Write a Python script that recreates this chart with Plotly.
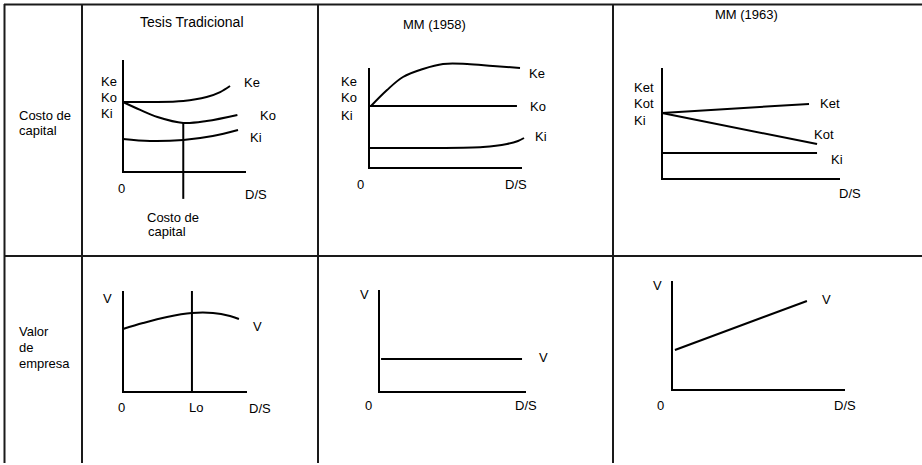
import plotly.graph_objects as go

W, H = 922, 465

# --- datos (unidades de cada panel: D/S de 0 a 10, costo/valor de 0 a 10) ---
# Tesis Tradicional - costo de capital
tt_x_ke = [0, 2.2, 4.9, 6.8, 7.9, 8.7]
tt_ke = [6.25, 6.25, 6.34, 6.7, 7.14, 7.68]
tt_x_ko = [0, 1.4, 2.8, 4.9, 6.8, 9.3]
tt_ko = [6.25, 5.54, 4.91, 4.38, 4.55, 5.09]
tt_x_ki = [0, 2.2, 4.9, 7.3, 9.35]
tt_ki = [2.95, 2.77, 2.86, 3.21, 3.75]
tt_opt_x = [4.9, 4.9]
tt_opt_y = [4.38, -2.4]

# MM (1958) - costo de capital
mm58_x_ke = [0.13, 1.18, 2.22, 3.53, 4.84, 6.41, 8.1, 9.87]
mm58_ke = [6.2, 7.8, 9.1, 9.9, 10.4, 10.4, 10.2, 10.0]
mm58_x_ko = [0, 9.67]
mm58_ko = [6.2, 6.2]
mm58_x_ki = [0, 4.18, 7.45, 9.02, 9.74, 10.13]
mm58_ki = [2.0, 2.0, 2.1, 2.4, 2.7, 3.0]

# MM (1963) - costo de capital
mm63_x_ket = [0, 8.26]
mm63_ket = [5.95, 6.76]
mm63_x_kot = [0, 8.71]
mm63_kot = [5.95, 3.15]
mm63_x_ki = [0, 8.71]
mm63_ki = [2.34, 2.34]

# Valor de empresa
tt_x_v = [0, 1.61, 3.55, 5.56, 7.26, 8.63, 9.35]
tt_v = [6.24, 6.83, 7.43, 7.82, 7.82, 7.52, 7.23]
tt_lo_x = [5.56, 5.56]
tt_lo_y = [0, 10]
mm58_x_v = [0.14, 9.73]
mm58_v = [3.24, 3.24]
mm63_x_v = [0.17, 7.8]
mm63_v = [3.67, 8.17]

axis_x = [0, 0, 10]
axis_y = [10, 0, 0]

# cajas de ejes en pixeles (x0, x1, ytop, ybot) y celdas (x0, x1, ytop, ybot)
panels = [
    ((123, 246, 60, 172), (84, 317, 6, 255)),
    ((369, 522, 68, 168), (320, 612, 6, 255)),
    ((662, 840, 68, 179), (615, 921, 6, 255)),
    ((123, 247, 291, 392), (84, 317, 257, 462)),
    ((379, 526, 290, 392), (320, 612, 257, 462)),
    ((672, 845, 281, 390), (615, 921, 257, 462)),
]

fig = go.Figure()
layout = {}
for i, (box, cell) in enumerate(panels):
    n = "" if i == 0 else str(i + 1)
    x0, x1, yt, yb = box
    cx0, cx1, cyt, cyb = cell
    layout["xaxis" + n] = dict(
        domain=[cx0 / W, cx1 / W],
        range=[(cx0 - x0) / (x1 - x0) * 10, (cx1 - x0) / (x1 - x0) * 10],
        visible=False, anchor="y" + n, fixedrange=True)
    layout["yaxis" + n] = dict(
        domain=[1 - cyb / H, 1 - cyt / H],
        range=[(yb - cyb) / (yb - yt) * 10, (yb - cyt) / (yb - yt) * 10],
        visible=False, anchor="x" + n, fixedrange=True)


def line(x, y, k, spline=False):
    n = "" if k == 1 else str(k)
    fig.add_trace(go.Scatter(
        x=x, y=y, mode="lines", xaxis="x" + n, yaxis="y" + n,
        line=dict(color="black", width=2,
                  shape="spline" if spline else "linear"),
        hoverinfo="skip", showlegend=False))


for k in range(1, 7):
    line(axis_x, axis_y, k)

line(tt_x_ke, tt_ke, 1, True)
line(tt_x_ko, tt_ko, 1, True)
line(tt_x_ki, tt_ki, 1, True)
line(tt_opt_x, tt_opt_y, 1)

line(mm58_x_ke, mm58_ke, 2, True)
line(mm58_x_ko, mm58_ko, 2)
line(mm58_x_ki, mm58_ki, 2, True)

line(mm63_x_ket, mm63_ket, 3)
line(mm63_x_kot, mm63_kot, 3)
line(mm63_x_ki, mm63_ki, 3)

line(tt_x_v, tt_v, 4, True)
line(tt_lo_x, tt_lo_y, 4)
line(mm58_x_v, mm58_v, 5)
line(mm63_x_v, mm63_v, 6)

# textos
annots = []


def lab(text, x, y, size=13, anchor="center"):
    annots.append(dict(text=text, x=x / W, y=1 - y / H, xref="paper", yref="paper",
                       showarrow=False, xanchor=anchor, yanchor="middle",
                       font=dict(size=size, color="black")))


lab("Costo de", 17, 115, anchor="left")
lab("capital", 17, 130, anchor="left")
lab("Valor", 17, 331, anchor="left")
lab("de", 17, 347, anchor="left")
lab("empresa", 17, 363, anchor="left")

lab("Tesis Tradicional", 192, 22, size=14)
for t, yy in [("Ke", 82), ("Ko", 98), ("Ki", 114)]:
    lab(t, 99, yy, anchor="left")
lab("Ke", 242, 83, anchor="left")
lab("Ko", 258, 115, anchor="left")
lab("Ki", 248, 137, anchor="left")
lab("0", 121, 188)
lab("D/S", 243, 194, anchor="left")
lab("Costo de", 145, 217, anchor="left")
lab("capital", 146, 231, anchor="left")

lab("MM (1958)", 434, 25)
for t, yy in [("Ke", 82), ("Ko", 97), ("Ki", 115)]:
    lab(t, 339, yy, anchor="left")
lab("Ke", 527, 73, anchor="left")
lab("Ko", 528, 106, anchor="left")
lab("Ki", 533, 136, anchor="left")
lab("0", 360, 184)
lab("D/S", 503, 184, anchor="left")

lab("MM (1963)", 746, 15)
for t, yy in [("Ket", 88), ("Kot", 104), ("Ki", 120)]:
    lab(t, 632, yy, anchor="left")
lab("Ket", 818, 104, anchor="left")
lab("Kot", 812, 135, anchor="left")
lab("Ki", 829, 159, anchor="left")
lab("D/S", 837, 193, anchor="left")

lab("V", 107, 298)
lab("V", 257, 326)
lab("0", 121, 407)
lab("Lo", 196, 407)
lab("D/S", 247, 408, anchor="left")

lab("V", 364, 294)
lab("V", 543, 357)
lab("0", 368, 405)
lab("D/S", 513, 405, anchor="left")

lab("V", 657, 285)
lab("V", 826, 299)
lab("0", 660, 405)
lab("D/S", 832, 405, anchor="left")

# bordes de la tabla
shapes = []


def rule(xa, ya, xb, yb):
    shapes.append(dict(type="line", xref="paper", yref="paper",
                       x0=xa / W, y0=1 - ya / H, x1=xb / W, y1=1 - yb / H,
                       line=dict(color="#1a1a1a", width=2)))


rule(4, 4.5, 922, 4.5)
rule(4, 256, 922, 256)
for xv in [4.5, 82, 318, 613]:
    rule(xv, 4, xv, 463)

fig.update_layout(
    width=W, height=H, margin=dict(l=0, r=0, t=0, b=0),
    paper_bgcolor="white", plot_bgcolor="white",
    font=dict(family="Arial, Liberation Sans, sans-serif", color="black"),
    showlegend=False, annotations=annots, shapes=shapes, **layout)

# quitar el margen del body para que la figura ocupe la ventana completa
fig.write_html("out.html", config={"displayModeBar": False},
               post_script="document.body.style.margin='0';document.body.style.overflow='hidden';")
